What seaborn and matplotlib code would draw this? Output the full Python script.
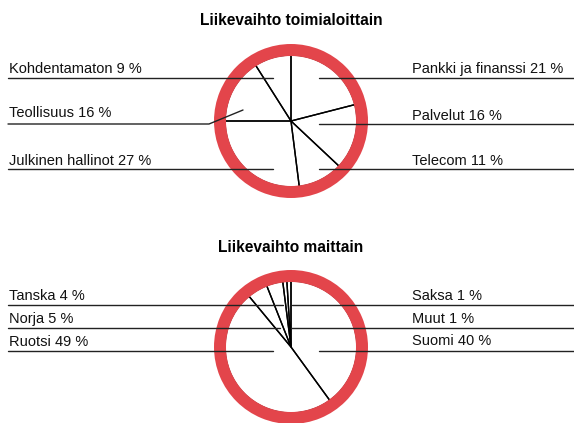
import pandas as pd
import matplotlib.pyplot as plt
import seaborn as sns

# data
sector_names = ['Pankki ja finanssi', 'Palvelut', 'Telecom',
                'Julkinen hallinot', 'Teollisuus', 'Kohdentamaton']
sector_pct = [21, 16, 11, 27, 16, 9]
country_names = ['Suomi', 'Ruotsi', 'Norja', 'Tanska', 'Muut', 'Saksa']
country_pct = [40, 49, 5, 4, 1, 1]

title_top = 'Liikevaihto toimialoittain'
title_bottom = 'Liikevaihto maittain'

W, H = 574, 423
RED = '#e3454b'

sns.set_theme(style='white')
plt.rcParams['font.family'] = ['Liberation Sans', 'DejaVu Sans']

fig = plt.figure(figsize=(W / 100, H / 100), dpi=100)
ax = fig.add_axes([0, 0, 1, 1])


def py(y):
    # pixel row -> data y
    return H - y


def ring(values, cx, cy):
    # slices as thin black spokes, then the red ring on top
    ax.pie(values, radius=66, center=(cx, py(cy)), startangle=90,
           counterclock=False, frame=True, colors=['none'] * len(values),
           wedgeprops=dict(edgecolor='black', linewidth=1.0))
    ax.pie([1], radius=77, center=(cx, py(cy)), frame=True, colors=[RED],
           wedgeprops=dict(width=12, edgecolor='none'))


ring(sector_pct, 291, 121)
ring(country_pct, 291, 347)

# leader lines
segs = [
    [(8, 78), (273, 78)], [(8, 124), (209, 124), (243, 110)], [(8, 169), (273, 169)],
    [(319, 78), (574, 78)], [(319, 124), (574, 124)], [(319, 169), (574, 169)],
    [(8, 305), (283, 305)], [(8, 328), (280, 328)], [(8, 351), (273, 351)],
    [(292, 305), (574, 305)], [(291, 328), (574, 328)], [(319, 351), (574, 351)],
]
rows = []
for i, s in enumerate(segs):
    for j, (x, y) in enumerate(s):
        rows.append(dict(seg=i, order=j, x=x, y=py(y)))
lines = pd.DataFrame(rows)
sns.lineplot(data=lines, x='x', y='y', units='seg', estimator=None, sort=False,
             color='#222222', linewidth=1.0, ax=ax, zorder=5)

# labels
fs = 10.5
lab = lambda n, v: f'{n} {v} %'
left_top = [(5, 73), (4, 117), (3, 165)]
right_top = [(0, 73), (1, 120), (2, 165)]
for k, yb in left_top:
    ax.text(9, py(yb), lab(sector_names[k], sector_pct[k]), fontsize=fs,
            va='baseline', ha='left', color='#111111')
for k, yb in right_top:
    ax.text(412, py(yb), lab(sector_names[k], sector_pct[k]), fontsize=fs,
            va='baseline', ha='left', color='#111111')
left_bot = [(3, 300), (2, 323), (1, 346)]
right_bot = [(5, 300), (4, 323), (0, 345)]
for k, yb in left_bot:
    ax.text(9, py(yb), lab(country_names[k], country_pct[k]), fontsize=fs,
            va='baseline', ha='left', color='#111111')
for k, yb in right_bot:
    ax.text(412, py(yb), lab(country_names[k], country_pct[k]), fontsize=fs,
            va='baseline', ha='left', color='#111111')

ax.text(291, py(25), title_top, fontsize=11.2, fontweight='bold',
        ha='center', va='baseline', color='black')
ax.text(291, py(252), title_bottom, fontsize=11.2, fontweight='bold',
        ha='center', va='baseline', color='black')

ax.set_xlim(0, W)
ax.set_ylim(0, H)
ax.set_aspect('auto')
ax.axis('off')
if ax.get_legend():
    ax.get_legend().remove()

fig.savefig('out.png', dpi=100)
